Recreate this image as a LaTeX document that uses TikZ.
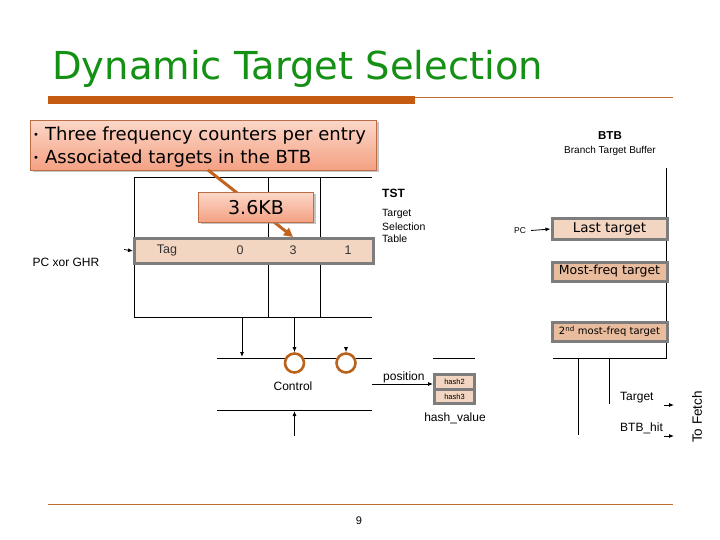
\documentclass[tikz,border=0pt]{standalone}
\usepackage{fontspec}
\setmainfont{Liberation Sans}
\newfontfamily\vfont{DejaVu Sans}
\usetikzlibrary{arrows.meta,shadows}
\definecolor{titlegreen}{RGB}{20,145,20}
\definecolor{barorange}{RGB}{197,90,17}
\definecolor{lineorange}{RGB}{190,110,50}
\definecolor{calltop}{RGB}{252,215,200}
\definecolor{callbot}{RGB}{244,160,130}
\definecolor{callborder}{RGB}{190,110,70}
\definecolor{arrorange}{RGB}{195,100,30}
\definecolor{peach}{RGB}{243,214,194}
\definecolor{peachdark}{RGB}{234,188,158}
\definecolor{framegray}{RGB}{125,125,125}
\definecolor{circorange}{RGB}{185,100,30}
\begin{document}
\begin{tikzpicture}[x=1pt,y=-1pt,
  callout/.style={draw=callborder, line width=1pt, top color=calltop, bottom color=callbot,
    drop shadow={shadow xshift=2pt, shadow yshift=-2pt, fill=black!45}, inner sep=0pt},
  rowbox/.style={draw=framegray, line width=3pt, fill=peach, inner sep=0pt},
  darkbox/.style={draw=framegray, line width=3pt, fill=peachdark, inner sep=0pt},
  lbl/.style={inner sep=0pt, font=\fontsize{12}{12}\selectfont},
  tstl/.style={anchor=base west, inner sep=0pt, font=\fontsize{10.5}{10.5}\selectfont},
  cell/.style={inner sep=0pt, text=black!80, font=\fontsize{12.5}{12.5}\selectfont},
  tip/.style={-{Latex[length=5pt,width=4pt]}, line width=0.8pt},
  thin/.style={line width=1pt},
  circ/.style={circle, draw=circorange, line width=2.6pt, fill=white, minimum size=19pt, inner sep=0pt}]
\useasboundingbox (0,0) rectangle (720,540);
% title
\node[anchor=base west, text=titlegreen, inner sep=0pt, font=\vfont\fontsize{38.5}{38.5}\selectfont] (title) at (52,80) {Dynamic Target Selection};
\fill[barorange] (48,96) rectangle (415,104);
\coordinate (barend) at (415,97.5);
\coordinate (lineend) at (673,97.5);
\draw[lineorange, line width=0.8pt] (barend) -- (lineend);
% footer
\coordinate (fl) at (48,504);
\coordinate (fr) at (673,504);
\draw[lineorange, line width=0.8pt] (fl) -- (fr);
\node[inner sep=0pt, font=\fontsize{11}{11}\selectfont] (pg) at (359,521) {9};
% TST table
\coordinate (tl) at (134,178);
\coordinate (bl) at (134,317);
\draw[thin] (372,178) -- (tl) -- (bl) -- (372,317);
\draw[thin] (268,178) -- (268,317);
\draw[thin] (320,178) -- (320,317);
\node[rowbox, minimum width=239pt, minimum height=25pt, anchor=north west] (row) at (133,237) {};
\node[cell] (vtag) at (167,250) {Tag};
\node[cell] (v0) at (240,250) {0};
\node[cell] (v3) at (293,250) {3};
\node[cell] (v1) at (348,250) {1};
\coordinate (rin) at (124,249.5);
\draw[tip] (rin) -- (row.west);
\node[lbl] (pcx) at (66,262) {PC xor GHR};
\node[anchor=base west, inner sep=0pt, font=\bfseries\fontsize{12}{12}\selectfont] (tst) at (382,198) {TST};
\node[tstl] (tst1) at (382,217) {Target};
\node[tstl] (tst2) at (382,230) {Selection};
\node[tstl] (tst3) at (382,243) {Table};
% callout
\node[callout, minimum width=346pt, minimum height=50pt, anchor=north west] (cb) at (30,120) {};
\node[anchor=base west, inner sep=0pt, font=\vfont\fontsize{18}{18}\selectfont] (b1) at (33,141) {{\fontsize{10}{10}\selectfont\raisebox{2.5pt}{•}}\hspace{6pt}Three frequency counters per entry};
\node[anchor=base west, inner sep=0pt, font=\vfont\fontsize{18}{18}\selectfont] (b2) at (33,164) {{\fontsize{10}{10}\selectfont\raisebox{2.5pt}{•}}\hspace{6pt}Associated targets in the BTB};
\coordinate (cs) at (208,170);
\draw[arrorange, line width=3pt, -{Triangle[length=9pt,width=9pt]}] (cs) -- (row.north -| v3);
\node[callout, minimum width=115pt, minimum height=30pt, anchor=north west, font=\vfont\fontsize{19}{19}\selectfont] (kb) at (198,192) {3.6KB};
% control area
\draw[thin] (217,358) -- (372,358);
\draw[thin] (217,410) -- (372,410);
\draw[thin] (433,358) -- (475,358);
\node[circ] (c1) at (294.5,363) {};
\node[circ] (c2) at (346,363) {};
\draw[tip] (242,317) -- (242,357);
\draw[tip] (294.5,317) -- (c1.north);
\draw[tip] (346,347) -- (c2.north);
\draw[tip] (294.5,436) -- (294.5,411);
\node[lbl] (ctrl) at (293,386) {Control};
\node[anchor=base west, lbl] (pos) at (383,380) {position};
\node[fill=framegray, minimum width=43pt, minimum height=32pt, anchor=north west, inner sep=0pt] (hb) at (433,373) {};
\node[fill=peach, minimum width=37pt, minimum height=12pt, inner sep=0pt, font=\fontsize{7.5}{7.5}\selectfont] (h2) at (454.5,382) {hash2};
\node[fill=peach, minimum width=37pt, minimum height=11pt, inner sep=0pt, font=\fontsize{7.5}{7.5}\selectfont] (h3) at (454.5,396.5) {hash3};
\coordinate (pst) at (372,384);
\draw[tip] (pst) -- (hb.west |- pst);
\node[lbl] (hv) at (455,418) {hash\_value};
% BTB
\node[inner sep=0pt, font=\bfseries\fontsize{11.5}{11.5}\selectfont] (btb) at (610,136) {BTB};
\node[inner sep=0pt, font=\fontsize{10}{10}\selectfont] (btbd) at (610,151) {Branch Target Buffer};
\draw[thin] (666,168) -- (666,358) -- (553,358);
\node[rowbox, minimum width=115pt, minimum height=20pt, font=\vfont\fontsize{13.5}{13.5}\selectfont] (lt) at (609.5,229) {Last target};
\node[inner sep=0pt, font=\fontsize{8.5}{8.5}\selectfont] (pc) at (520,230.5) {PC};
\draw[tip] (pc.east) ++(5,0) -- (lt.west);
\node[darkbox, minimum width=115pt, minimum height=19pt, font=\vfont\fontsize{12.5}{12.5}\selectfont] (mf) at (609.5,271.5) {Most-freq target};
\node[darkbox, minimum width=115pt, minimum height=19pt, font=\vfont\fontsize{10}{10}\selectfont] (mf2) at (609.5,331.5) {2\textsuperscript{nd} most-freq target};
\draw[thin] (578,358) -- (578,435);
\draw[thin] (609,358) -- (609,404);
\node[anchor=base west, lbl] (tg) at (620,400) {Target};
\node[anchor=base west, lbl] (hit) at (620,431) {BTB\_hit};
\coordinate (a1s) at (664,405);
\coordinate (a1e) at (674,405);
\coordinate (a2s) at (664,436);
\coordinate (a2e) at (674,436);
\draw[tip] (a1s) -- (a1e);
\draw[tip] (a2s) -- (a2e);
\node[rotate=90, inner sep=0pt, font=\fontsize{13.5}{13.5}\selectfont] (tf) at (697,417) {To Fetch};
\end{tikzpicture}
\end{document}
